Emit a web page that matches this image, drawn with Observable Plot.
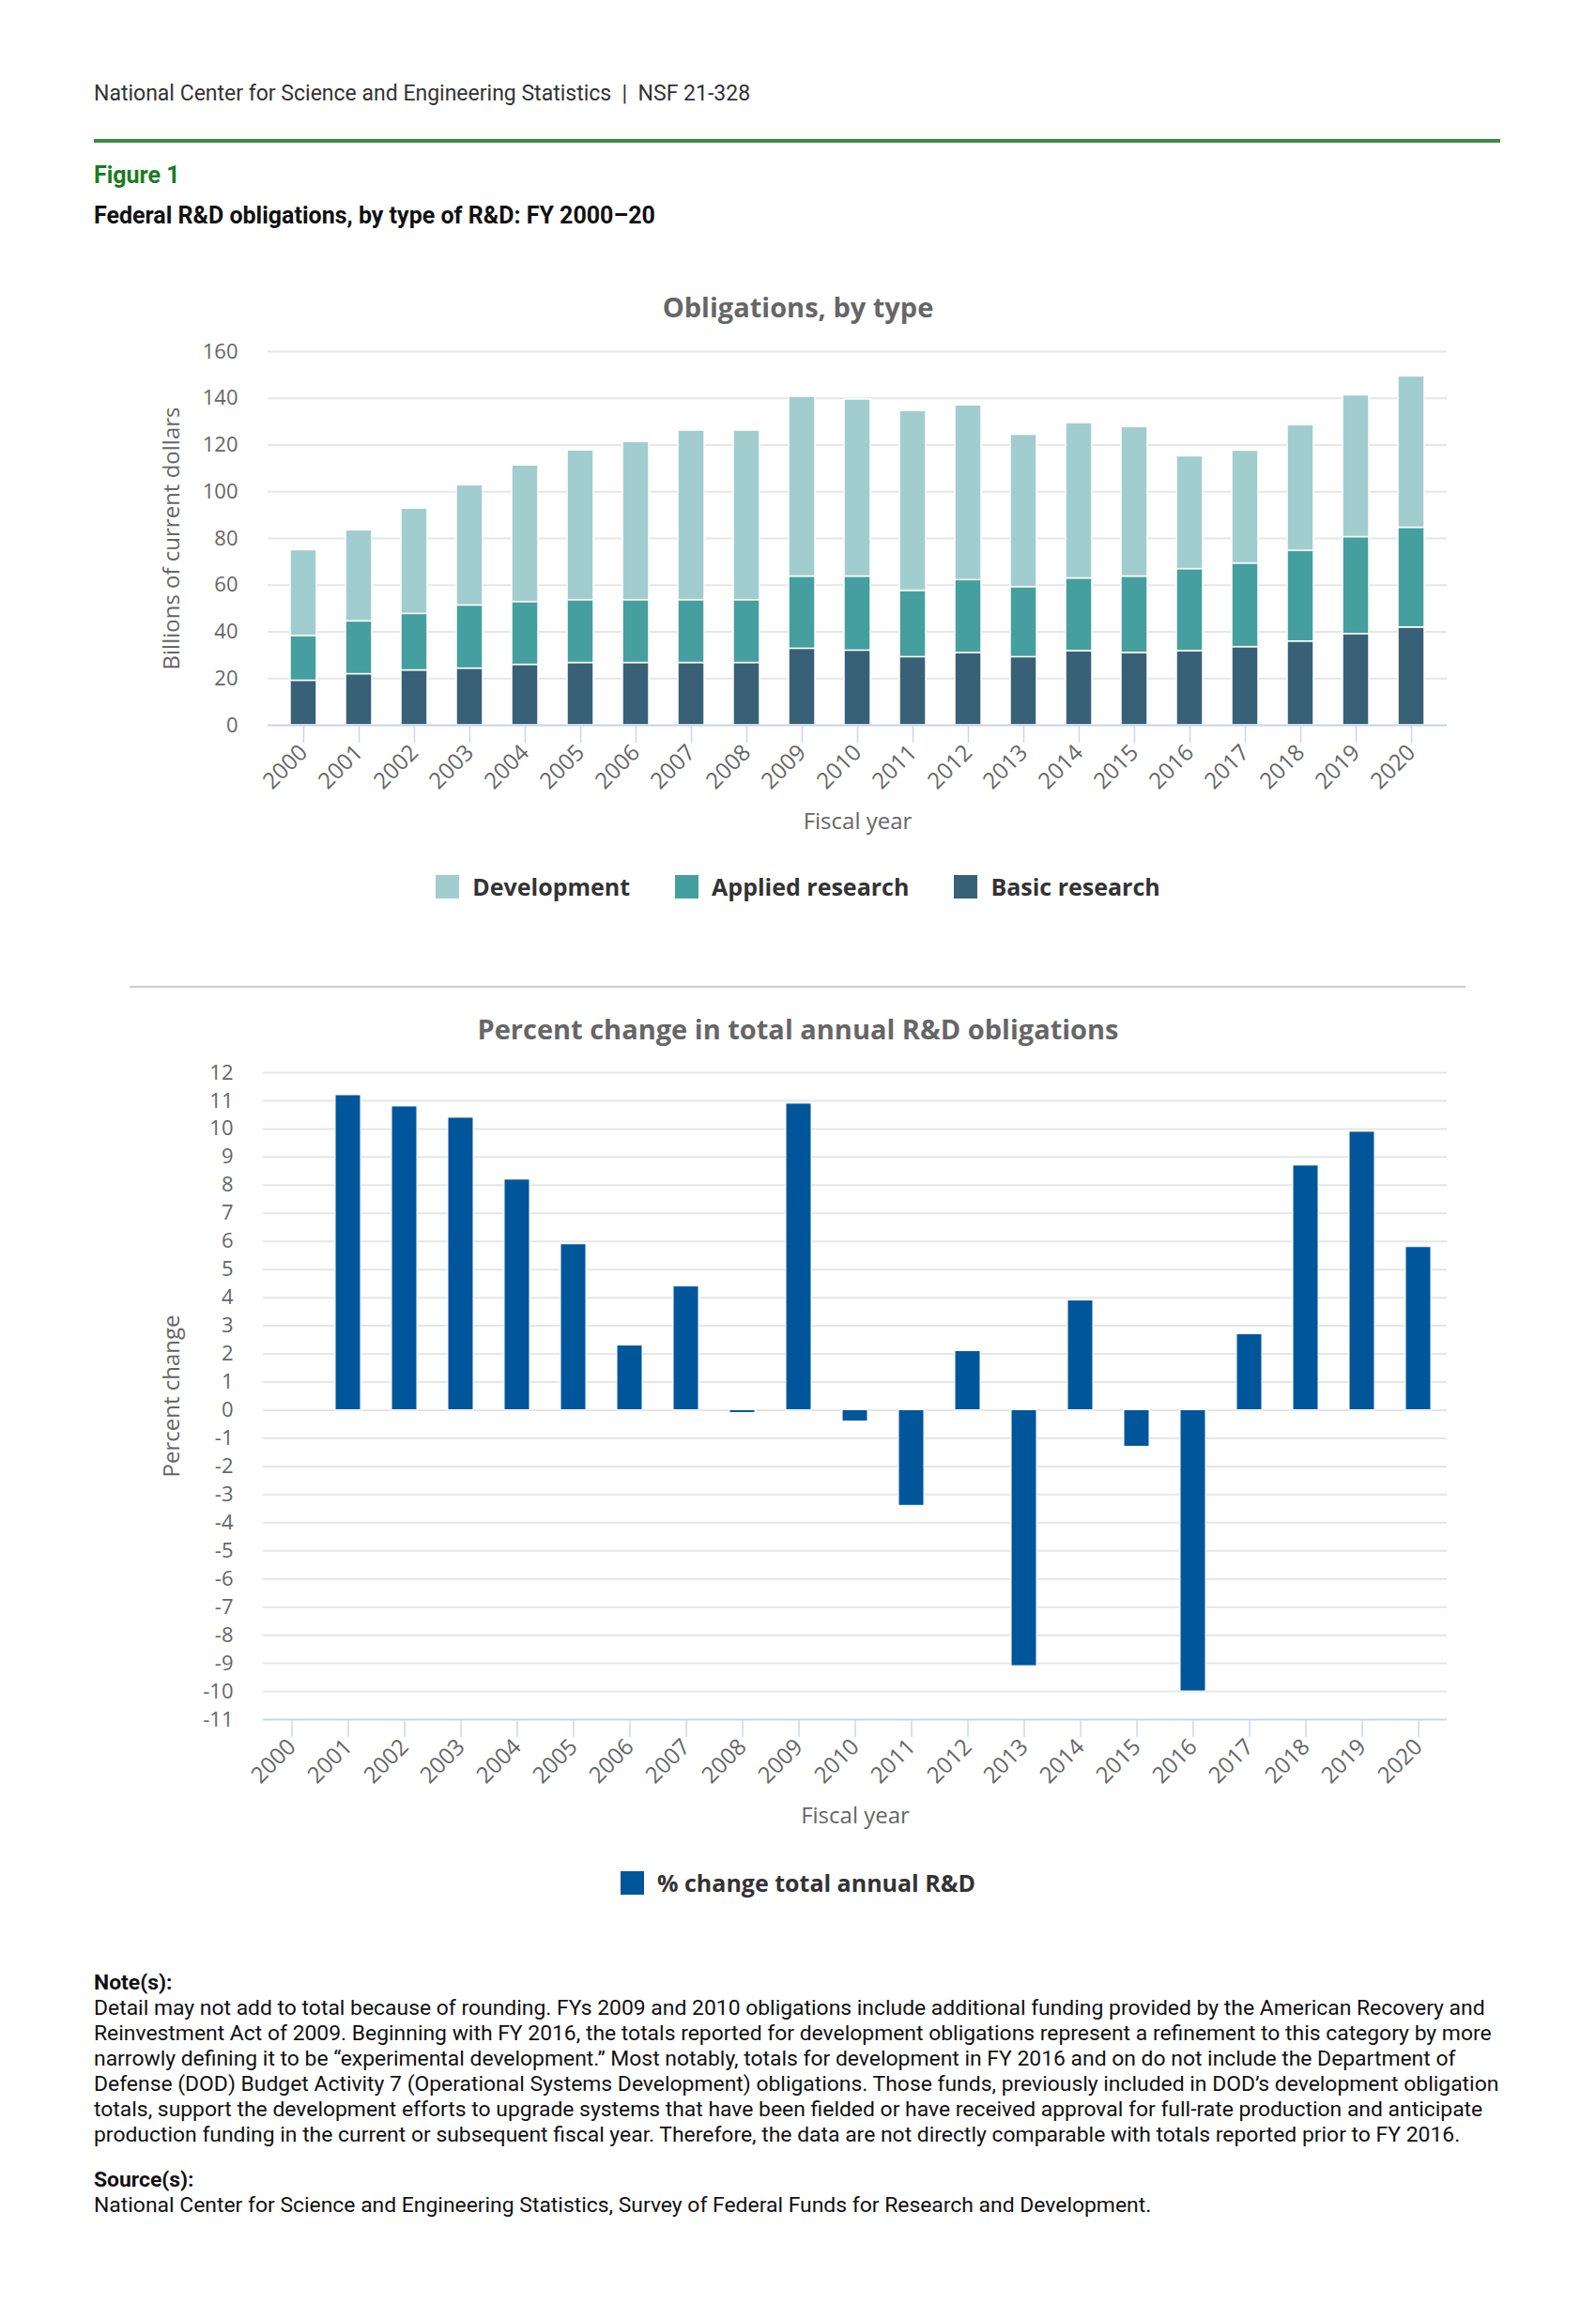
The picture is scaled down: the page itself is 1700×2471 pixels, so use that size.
<!DOCTYPE html>
<html>
<head>
<meta charset="utf-8">
<script src="https://cdn.jsdelivr.net/npm/d3@7"></script>
<script src="https://cdn.jsdelivr.net/npm/@observablehq/plot@0.6"></script>
<style>
  html, body { margin: 0; padding: 0; background: #fff; }
  body { width: 1700px; height: 2471px; position: relative; overflow: hidden; }
  .abs { position: absolute; white-space: nowrap; }
  .roboto { font-family: Roboto, "Liberation Sans", sans-serif; }
  .os { font-family: "Open Sans", "DejaVu Sans", sans-serif; }
  .legend { position: absolute; left: 0; width: 1700px; display: flex; justify-content: center; align-items: center; font-family: "Open Sans", sans-serif; font-weight: 700; color: #333; }
  .legend .item { display: flex; align-items: center; }
  .legend .sw { width: 25px; height: 25px; margin-right: 14px; }
  svg { position: absolute; left: 0; overflow: visible; }
</style>
</head>
<body>
<div class="abs roboto" style="left:100px; top:88px; font-size:23px; line-height:23px; color:#333;">National Center for Science and Engineering Statistics&nbsp; |&nbsp; NSF 21-328</div>
<div class="abs" style="left:100px; top:148px; width:1498px; height:4px; background:#3d8b47;"></div>
<div class="abs roboto" style="left:100px; top:174px; font-size:25px; line-height:25px; font-weight:700; color:#1c7a24;">Figure 1</div>
<div class="abs roboto" style="left:100px; top:217px; font-size:25px; line-height:25px; font-weight:700; color:#111;">Federal R&amp;D obligations, by type of R&amp;D: FY 2000–20</div>

<div class="abs os" style="left:0; width:1700px; text-align:center; top:311px; font-size:29px; line-height:31px; font-weight:700; color:#666;">Obligations, by type</div>
<div id="chart1"></div>
<div class="legend" id="legend1" style="top:930px; height:28px; font-size:25px;"></div>

<div class="abs" style="left:138px; top:1050px; width:1423px; height:2px; background:#cccccc;"></div>

<div class="abs os" style="left:0; width:1700px; text-align:center; top:1080px; font-size:29px; line-height:31px; font-weight:700; color:#666;">Percent change in total annual R&amp;D obligations</div>
<div id="chart2"></div>
<div class="legend" id="legend2" style="top:1991px; height:28px; font-size:25px;"></div>

<div class="abs roboto" style="left:100px; top:2099px; font-size:22.9px; line-height:25px; font-weight:700; color:#111;">Note(s):</div>
<div class="abs roboto" style="left:100px; top:2125px; font-size:22.9px; line-height:27px; color:#111;">
Detail may not add to total because of rounding. FYs 2009 and 2010 obligations include additional funding provided by the American Recovery and<br>
Reinvestment Act of 2009. Beginning with FY 2016, the totals reported for development obligations represent a refinement to this category by more<br>
narrowly defining it to be “experimental development.” Most notably, totals for development in FY 2016 and on do not include the Department of<br>
Defense (DOD) Budget Activity 7 (Operational Systems Development) obligations. Those funds, previously included in DOD’s development obligation<br>
totals, support the development efforts to upgrade systems that have been fielded or have received approval for full-rate production and anticipate<br>
production funding in the current or subsequent fiscal year. Therefore, the data are not directly comparable with totals reported prior to FY 2016.
</div>
<div class="abs roboto" style="left:100px; top:2309px; font-size:22.9px; line-height:25px; font-weight:700; color:#111;">Source(s):</div>
<div class="abs roboto" style="left:100px; top:2335px; font-size:22.9px; line-height:27px; color:#111;">National Center for Science and Engineering Statistics, Survey of Federal Funds for Research and Development.</div>

<script>
// ---- Data ----
const years = ["2000","2001","2002","2003","2004","2005","2006","2007","2008","2009","2010",
               "2011","2012","2013","2014","2015","2016","2017","2018","2019","2020"];
const types = ["Development", "Applied research", "Basic research"];
const typeColors = ["#a2cdce", "#459f9f", "#386178"];

// Billions of current dollars
const basicResearch   = [19.1, 21.9, 23.5, 24.3, 25.9, 26.7, 26.7, 26.7, 26.7, 32.8, 32.0,
                         29.2, 31.0, 29.2, 31.8, 31.0, 31.8, 33.5, 35.9, 39.1, 41.9];
const appliedResearch = [19.2, 22.6, 24.2, 27.0, 26.9, 26.9, 26.9, 26.9, 26.9, 30.9, 31.7,
                         28.4, 31.2, 30.0, 31.1, 32.7, 35.1, 35.8, 38.8, 41.5, 42.7];
const development     = [36.7, 39.0, 45.1, 51.5, 58.5, 64.1, 67.7, 72.6, 72.6, 77.0, 75.8,
                         77.0, 74.8, 65.2, 66.5, 64.0, 48.3, 48.3, 53.8, 60.7, 64.8];

// Percent change in total annual R&D obligations
const pctChange = [null, 11.2, 10.8, 10.4, 8.2, 5.9, 2.3, 4.4, -0.1, 10.9, -0.4,
                   -3.4, 2.1, -9.1, 3.9, -1.3, -10.0, 2.7, 8.7, 9.9, 5.8];
const pctLabel = "% change total annual R&D";
const pctColor = "#00569b";

const yTicks1 = [0, 20, 40, 60, 80, 100, 120, 140, 160];
const yTicks2 = d3.range(-11, 13);

// ---- Tidy tables ----
const stacked = [];
years.forEach((yr, i) => {
  stacked.push({year: yr, type: "Basic research", value: basicResearch[i]});
  stacked.push({year: yr, type: "Applied research", value: appliedResearch[i]});
  stacked.push({year: yr, type: "Development", value: development[i]});
});
const pct = years.map((yr, i) => ({year: yr, value: pctChange[i]})).filter(d => d.value != null);

const axisColor = "#ccd6eb";
const tickTextColor = "#666666";
const baseStyle = {fontFamily: "'Open Sans', sans-serif", fontSize: "21px", color: tickTextColor, background: "transparent", overflow: "visible"};
const plain = d => String(d);

// ---- Chart 1 ----
const chart1 = Plot.plot({
  width: 1700, height: 560,
  marginTop: 34, marginBottom: 128, marginLeft: 285, marginRight: 159,
  style: baseStyle,
  x: {type: "band", domain: years, paddingInner: 0.533, paddingOuter: 0.2665},
  y: {domain: [0, 160]},
  color: {domain: types, range: typeColors},
  marks: [
    Plot.gridY(yTicks1, {stroke: "#e6e6e6", strokeOpacity: 1, strokeWidth: 2}),
    Plot.barY(stacked, {x: "year", y: "value", fill: "type",
      order: ["Basic research", "Applied research", "Development"],
      stroke: "#ffffff", strokeWidth: 1.5}),
    Plot.ruleY([0], {stroke: axisColor, strokeWidth: 2}),
    Plot.axisY(yTicks1, {tickSize: 0, tickPadding: 32, label: null, fill: tickTextColor, tickFormat: plain, fontSize: 22}),
    Plot.axisX({tickSize: 19, tickPadding: 6, tickRotate: -45, stroke: axisColor, strokeWidth: 1.5, strokeOpacity: 1, label: null, fill: tickTextColor, fontSize: 24}),
    Plot.text(["Fiscal year"], {frameAnchor: "bottom", dy: 110, fontSize: 24, fill: tickTextColor}),
    Plot.text(["Billions of current dollars"], {frameAnchor: "left", textAnchor: "middle", dx: -102, rotate: -90, fontSize: 24, fill: tickTextColor})
  ]
});
chart1.style.top = "340px";
document.getElementById("chart1").appendChild(chart1);

// ---- Chart 2 ----
const chart2 = Plot.plot({
  width: 1700, height: 850,
  marginTop: 32, marginBottom: 129, marginLeft: 280, marginRight: 159,
  style: baseStyle,
  x: {type: "band", domain: years, paddingInner: 0.55, paddingOuter: 0.275},
  y: {domain: [-11, 12]},
  marks: [
    Plot.gridY(yTicks2.filter(t => t > -11), {stroke: "#e6e6e6", strokeOpacity: 1, strokeWidth: 2}),
    Plot.barY(pct, {x: "year", y: "value", fill: pctColor, stroke: "#ffffff", strokeWidth: 1}),
    Plot.ruleY([-11], {stroke: axisColor, strokeWidth: 2}),
    Plot.axisY(yTicks2, {tickSize: 0, tickPadding: 32, label: null, fill: tickTextColor, tickFormat: plain, fontSize: 22}),
    Plot.axisX({tickSize: 19, tickPadding: 6, tickRotate: -45, stroke: axisColor, strokeWidth: 1.5, strokeOpacity: 1, label: null, fill: tickTextColor, fontSize: 24}),
    Plot.text(["Fiscal year"], {frameAnchor: "bottom", dy: 110, fontSize: 24, fill: tickTextColor}),
    Plot.text(["Percent change"], {frameAnchor: "left", textAnchor: "middle", dx: -97, rotate: -90, fontSize: 24, fill: tickTextColor})
  ]
});
chart2.style.top = "1110px";
document.getElementById("chart2").appendChild(chart2);

// ---- Legends ----
function buildLegend(el, labels, colors) {
  labels.forEach((lab, i) => {
    const item = document.createElement("div");
    item.className = "item";
    if (i > 0) item.style.marginLeft = "48px";
    const sw = document.createElement("div");
    sw.className = "sw";
    sw.style.background = colors[i];
    const tx = document.createElement("span");
    tx.textContent = lab;
    item.appendChild(sw); item.appendChild(tx);
    el.appendChild(item);
  });
}
buildLegend(document.getElementById("legend1"), types, typeColors);
buildLegend(document.getElementById("legend2"), [pctLabel], [pctColor]);
</script>
</body>
</html>
